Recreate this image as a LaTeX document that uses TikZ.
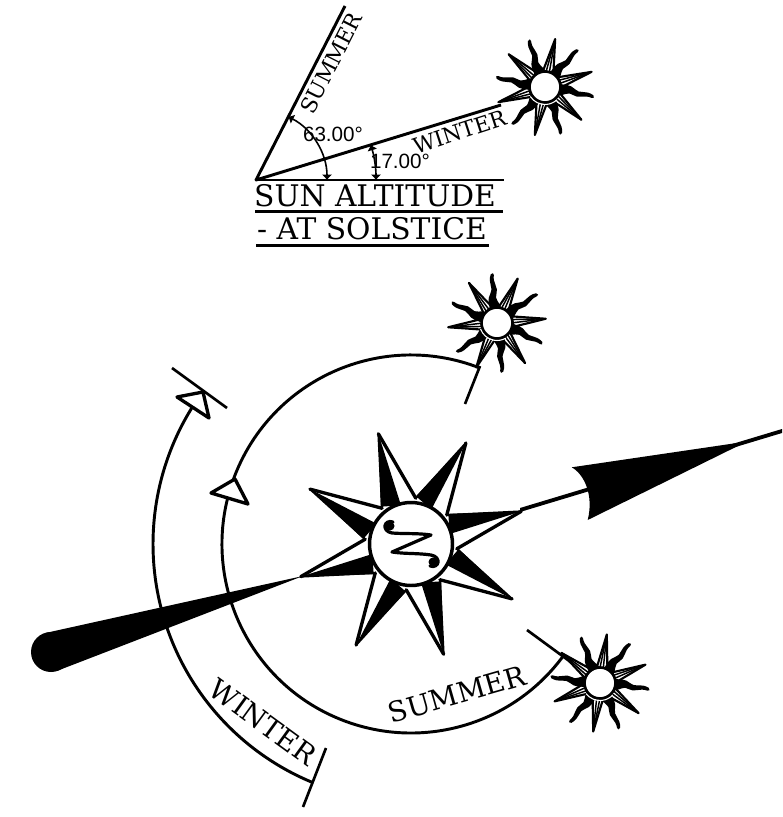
\documentclass[tikz,border=0pt]{standalone}
\usepackage{fontspec}
\setmainfont{DejaVu Serif}
\newfontfamily\dimfont{Liberation Sans}
\usetikzlibrary{arrows.meta}

\tikzset{
    pics/sunicon/.style={code={
        % Straight rays
        \foreach \a in {0,60,...,300} {
            \draw[sunline, fill=white] (\a:49) -- (\a+24:14) -- (\a-24:14) -- cycle;
            \draw[line width=1.1pt] (\a:49) -- (\a+9:14);
            \draw[line width=1.1pt] (\a:49) -- (\a-5:14);
        }
        % Wavy rays
        \foreach \a in {30,90,...,330} {
            \begin{scope}[rotate=\a]
                \fill (13,6) .. controls (20,6) and (24,8) .. (30,4)
                    .. controls (35,0) and (40,6) .. (49,2)
                    .. controls (51,0) and (50,-1) .. (48,-1)
                    .. controls (40,1) and (35,-5) .. (29,-2)
                    .. controls (24,1) and (20,-5) .. (13,-6) -- cycle;
            \end{scope}
        }
        % Disc
        \draw[line width=2pt, fill=white] (0,0) circle (15.5);
        \draw[white, line width=0.8pt] (195:17.5) arc[start angle=195, end angle=295, radius=17.5];
    }}
}

\begin{document}
\begin{tikzpicture}[
    x=0.75pt, y=0.75pt,
    sunline/.style={line width=1.6pt, line join=round},
    axis/.style={line width=2.2pt},
    sweep/.style={line width=2.2pt},
    pointer/.style={draw, fill=white, line width=2.5pt, line join=round},
    bar/.style={line width=2pt},
    dimarc/.style={line width=1.2pt, {Latex[length=4pt,width=8pt]}-{Latex[length=4pt,width=8pt]}},
    title/.style={font=\fontsize{22.3}{26}\selectfont, inner sep=0pt},
    side/.style={font=\fontsize{16.3}{20}\selectfont, inner sep=0pt},
    dirlabel/.style={font=\fontsize{21}{25}\selectfont, inner sep=0pt},
    dim/.style={font=\dimfont\fontsize{15.5}{18}\selectfont, inner sep=0pt}
]
    \useasboundingbox (0,0) rectangle (782,-817);

    % Altitude sketch
    \coordinate (base) at (256,-180);
    \coordinate (baseEnd) at (504,-180);
    \coordinate (summerEnd) at (345,-6);
    \coordinate (winterEnd) at (501,-105);
    \coordinate (sunWinter) at (545,-87);
    \draw[axis] (base) -- (baseEnd);
    \draw[axis, line join=round] (summerEnd) -- (base) -- (winterEnd);
    \draw[dimarc] ([shift={(base)}]63:71) arc[start angle=63, end angle=0, radius=71];
    \draw[dimarc] ([shift={(base)}]17:120) arc[start angle=17, end angle=0, radius=120];
    \pic[rotate=18] at (sunWinter) {sunicon};
    \node[side, rotate=63] (lblSummerUp) at (331,-63) {SUMMER};
    \node[side, rotate=18] (lblWinterUp) at (460,-132) {WINTER};
    \node[dim] (dimSummer) at (333,-134) {63.00°};
    \node[dim] (dimWinter) at (400,-161) {17.00°};

    % Title
    \node[title] (titleA) at (375,-196) {SUN ALTITUDE};
    \node[title] (titleB) at (372,-229) {- AT SOLSTICE};
    \draw[bar] (255,-211.5) -- (503,-211.5);
    \draw[bar] (256,-245.5) -- (489,-245.5);

    % Sweep arcs
    \coordinate (compass) at (411,-544);
    \coordinate (sunRise) at (497,-323);
    \coordinate (sunSet) at (600,-683);
    \draw[sweep] ([shift={(compass)}]69:189) arc[start angle=69, end angle=324, radius=189];
    \draw[sweep] ([shift={(compass)}]143.5:258) arc[start angle=143.5, end angle=247.5, radius=258];
    \draw[bar] (465,-404) -- (480,-366);
    \draw[bar] (527,-630) -- (572,-663);
    \draw[bar] (172,-368) -- (227,-408);
    \draw[bar] (326,-748) -- (303,-807);
    \draw[pointer] (235,-479) -- (211,-493) -- (248,-504) -- cycle;
    \draw[pointer] (203,-392) -- (177,-397) -- (209,-418) -- cycle;
    \pic[rotate=5] at (sunRise) {sunicon};
    \pic[rotate=22] at (sunSet) {sunicon};
    \node[dirlabel, rotate=16] (lblSummer) at (457,-694) {SUMMER};
    \node[dirlabel, rotate=-36] (lblWinter) at (263,-722) {WINTER};

    % North needle
    \fill (303,-576) -- (46.7,-632.7) -- (56.7,-671) -- cycle;
    \fill (51,-652) circle (20);
    \fill (520,-508) -- (782,-429) -- (782,-433) -- (520,-512) -- cycle;
    \fill (747,-441.5) -- (571.7,-467.3) .. controls (584,-474) and (594,-495) .. (587.7,-520) -- cycle;

    % Compass star
    \foreach \a in {16.5,61.5,...,331.5} {
        \fill ([shift={(compass)}]\a:115) -- ([shift={(compass)}]\a+22.5:48) -- ([shift={(compass)}]\a-2:40) -- cycle;
        \draw[line width=2.5pt, line join=round, line cap=round]
            ([shift={(compass)}]\a:115) -- ([shift={(compass)}]\a-22.5:46);
        \draw[line width=1.5pt, line cap=round]
            ([shift={(compass)}]\a:115) -- ([shift={(compass)}]\a+22.5:46);
    }
    \draw[line width=2.6pt, fill=white] (compass) circle (41.5);

    % North letter
    \draw[line width=2.4pt, line cap=round, line join=round]
        (393,-522) .. controls (384,-519) and (381,-531) .. (392,-533)
        .. controls (405,-534) and (418,-533) .. (431,-535) -- (392,-552)
        .. controls (405,-554) and (418,-553) .. (431,-555)
        .. controls (442,-557) and (439,-569) .. (430,-566);
    \fill (390,-526) circle (4.5);
    \fill (433,-562) circle (4.5);
\end{tikzpicture}
\end{document}
